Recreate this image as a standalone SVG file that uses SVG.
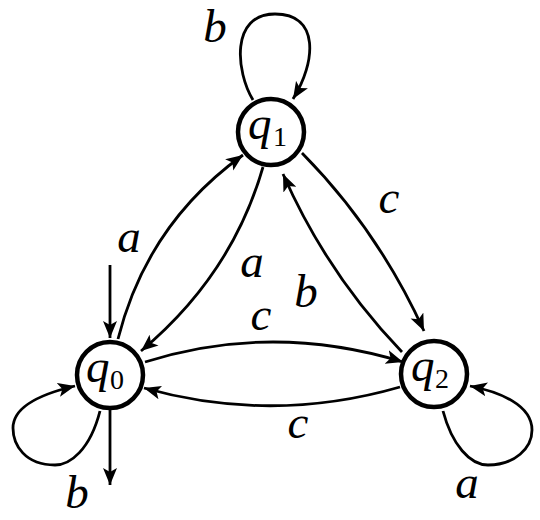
<svg xmlns="http://www.w3.org/2000/svg" width="540" height="520" viewBox="0 0 540 520">
<defs>
<marker id="arr" markerUnits="userSpaceOnUse" markerWidth="20" markerHeight="16" refX="17" refY="7" orient="auto" viewBox="0 0 20 14">
<path d="M0,0 L17,7 L0,14 L4,7 Z" fill="#000"/>
</marker>
<style>
.st{fill:#fff;stroke:#000;stroke-width:4.5}
.e{fill:none;stroke:#000;stroke-width:2.8;marker-end:url(#arr)}
.lbl{font-family:"Liberation Serif",serif;font-style:italic;font-size:47px;text-anchor:middle;fill:#000}
.q{font-family:"Liberation Serif",serif;font-style:italic;font-size:47px;fill:#000}
.sub{font-family:"Liberation Serif",serif;font-size:28px;fill:#000}
</style>
</defs>
<rect width="540" height="520" fill="#fff"/>
<g id="connectors">
<path class="e" d="M110,265 L110,338"/>
<path class="e" d="M110,409 L110,485"/>
<path class="e" d="M253,100 C236,72 230,14 275,14 C320,14 316,62 293,99"/>
<path class="e" d="M100,411 C90,450 70,465 55,465 C25,465 13,445 13,428 C13,405 45,393 75,386"/>
<path class="e" d="M443,411 C452,445 470,465 488,465 C515,465 532,448 532,430 C532,405 500,392 470,386"/>
<path class="e" d="M118,339 Q147,224 243,155"/>
<path class="e" d="M263,167 Q232,275 141,351"/>
<path class="e" d="M302,153 Q378,230 424,331"/>
<path class="e" d="M402,352 Q327,274 283,174"/>
<path class="e" d="M145,362 Q272,322 403,362"/>
<path class="e" d="M400,387 Q272,424 144,388"/>
</g>
<g id="labels">
<text class="lbl" x="215" y="42">b</text>
<text class="lbl" x="129" y="252">a</text>
<text class="lbl" x="252" y="277">a</text>
<text class="lbl" x="389" y="213">c</text>
<text class="lbl" x="306" y="307">b</text>
<text class="lbl" x="261" y="330">c</text>
<text class="lbl" x="298" y="438">c</text>
<text class="lbl" x="77" y="508">b</text>
<text class="lbl" x="467" y="498">a</text>
</g>
<g id="q0">
<circle class="st" cx="110" cy="375" r="33"/>
<text class="q" x="86" y="382">q</text><text class="sub" x="110" y="389">0</text>
</g>
<g id="q1">
<circle class="st" cx="271" cy="132" r="33"/>
<text class="q" x="248" y="139">q</text><text class="sub" x="273" y="146">1</text>
</g>
<g id="q2">
<circle class="st" cx="434" cy="374" r="33"/>
<text class="q" x="411" y="381">q</text><text class="sub" x="435" y="388">2</text>
</g>
</svg>
